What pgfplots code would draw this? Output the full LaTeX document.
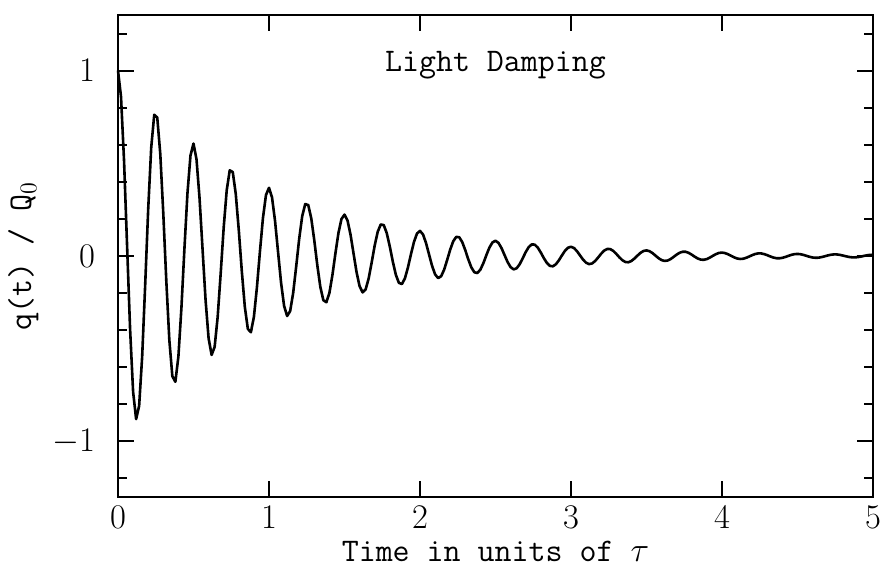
\documentclass[border=0pt]{standalone}
\usepackage{pgfplots}
\pgfplotsset{compat=1.18}
\begin{document}
\begin{tikzpicture}
\begin{axis}[
  scale only axis,
  width=377.5pt, height=241pt,
  xmin=0, xmax=5, ymin=-1.3, ymax=1.3,
  xtick={0,1,2,3,4,5},
  ytick={-1,0,1},
  minor ytick={-1.2,-0.8,-0.6,-0.4,-0.2,0.2,0.4,0.6,0.8,1.2},
  tick align=inside,
  major tick length=8pt,
  minor tick length=4.5pt,
  axis line style={line width=1.1pt},
  every tick/.style={black, line width=1pt},
  tick label style={font=\fontsize{17.5}{19}\selectfont},
  xticklabel style={yshift=-1pt},
  yticklabel style={xshift=-8pt},
  xlabel={\fontsize{16.5}{19}\selectfont\ttfamily Time in units of $\tau$},
  ylabel={\fontsize{16.5}{19}\selectfont\ttfamily q(t) / Q$_0$},
  xlabel style={yshift=0.5pt},
  clip=false,
]
\addplot[black, line width=1.3pt, line join=round] table {
t q
0.00 1.0000
0.02 0.8590
0.04 0.5148
0.06 0.0591
0.08 -0.3930
0.10 -0.7320
0.12 -0.8799
0.14 -0.8083
0.16 -0.5432
0.18 -0.1565
0.20 0.2530
0.22 0.5850
0.24 0.7619
0.26 0.7468
0.28 0.5509
0.30 0.2289
0.32 -0.1361
0.34 -0.4537
0.36 -0.6487
0.38 -0.6785
0.40 -0.5423
0.42 -0.2798
0.44 0.0404
0.46 0.3383
0.48 0.5422
0.50 0.6065
0.52 0.5210
0.54 0.3123
0.56 0.0359
0.58 -0.2384
0.60 -0.4440
0.62 -0.5337
0.64 -0.4903
0.66 -0.3295
0.68 -0.0949
0.70 0.1535
0.72 0.3548
0.74 0.4621
0.76 0.4530
0.78 0.3342
0.80 0.1389
0.82 -0.0825
0.84 -0.2752
0.86 -0.3934
0.88 -0.4115
0.90 -0.3289
0.92 -0.1697
0.94 0.0245
0.96 0.2052
0.98 0.3289
1.00 0.3679
1.02 0.3160
1.04 0.1894
1.06 0.0218
1.08 -0.1446
1.10 -0.2693
1.12 -0.3237
1.14 -0.2974
1.16 -0.1998
1.18 -0.0576
1.20 0.0931
1.22 0.2152
1.24 0.2803
1.26 0.2747
1.28 0.2027
1.30 0.0842
1.32 -0.0501
1.34 -0.1669
1.36 -0.2386
1.38 -0.2496
1.40 -0.1995
1.42 -0.1029
1.44 0.0149
1.46 0.1244
1.48 0.1995
1.50 0.2231
1.52 0.1917
1.54 0.1149
1.56 0.0132
1.58 -0.0877
1.60 -0.1633
1.62 -0.1963
1.64 -0.1804
1.66 -0.1212
1.68 -0.0349
1.70 0.0565
1.72 0.1305
1.74 0.1700
1.76 0.1666
1.78 0.1229
1.80 0.0511
1.82 -0.0304
1.84 -0.1012
1.86 -0.1447
1.88 -0.1514
1.90 -0.1210
1.92 -0.0624
1.94 0.0090
1.96 0.0755
1.98 0.1210
2.00 0.1353
2.02 0.1162
2.04 0.0697
2.06 0.0080
2.08 -0.0532
2.10 -0.0991
2.12 -0.1191
2.14 -0.1094
2.16 -0.0735
2.18 -0.0212
2.20 0.0342
2.22 0.0792
2.24 0.1031
2.26 0.1011
2.28 0.0746
2.30 0.0310
2.32 -0.0184
2.34 -0.0614
2.36 -0.0878
2.38 -0.0918
2.40 -0.0734
2.42 -0.0379
2.44 0.0055
2.46 0.0458
2.48 0.0734
2.50 0.0821
2.52 0.0705
2.54 0.0423
2.56 0.0049
2.58 -0.0323
2.60 -0.0601
2.62 -0.0722
2.64 -0.0664
2.66 -0.0446
2.68 -0.0128
2.70 0.0208
2.72 0.0480
2.74 0.0625
2.76 0.0613
2.78 0.0452
2.80 0.0188
2.82 -0.0112
2.84 -0.0372
2.86 -0.0532
2.88 -0.0557
2.90 -0.0445
2.92 -0.0230
2.94 0.0033
2.96 0.0278
2.98 0.0445
3.00 0.0498
3.02 0.0428
3.04 0.0256
3.06 0.0029
3.08 -0.0196
3.10 -0.0364
3.12 -0.0438
3.14 -0.0402
3.16 -0.0270
3.18 -0.0078
3.20 0.0126
3.22 0.0291
3.24 0.0379
3.26 0.0372
3.28 0.0274
3.30 0.0114
3.32 -0.0068
3.34 -0.0226
3.36 -0.0323
3.38 -0.0338
3.40 -0.0270
3.42 -0.0139
3.44 0.0020
3.46 0.0168
3.48 0.0270
3.50 0.0302
3.52 0.0259
3.54 0.0155
3.56 0.0018
3.58 -0.0119
3.60 -0.0221
3.62 -0.0266
3.64 -0.0244
3.66 -0.0164
3.68 -0.0047
3.70 0.0076
3.72 0.0177
3.74 0.0230
3.76 0.0226
3.78 0.0166
3.80 0.0069
3.82 -0.0041
3.84 -0.0137
3.86 -0.0196
3.88 -0.0205
3.90 -0.0164
3.92 -0.0084
3.94 0.0012
3.96 0.0102
3.98 0.0164
4.00 0.0183
4.02 0.0157
4.04 0.0094
4.06 0.0011
4.08 -0.0072
4.10 -0.0134
4.12 -0.0161
4.14 -0.0148
4.16 -0.0099
4.18 -0.0029
4.20 0.0046
4.22 0.0107
4.24 0.0140
4.26 0.0137
4.28 0.0101
4.30 0.0042
4.32 -0.0025
4.34 -0.0083
4.36 -0.0119
4.38 -0.0124
4.40 -0.0099
4.42 -0.0051
4.44 0.0007
4.46 0.0062
4.48 0.0099
4.50 0.0111
4.52 0.0095
4.54 0.0057
4.56 0.0007
4.58 -0.0044
4.60 -0.0081
4.62 -0.0098
4.64 -0.0090
4.66 -0.0060
4.68 -0.0017
4.70 0.0028
4.72 0.0065
4.74 0.0085
4.76 0.0083
4.78 0.0061
4.80 0.0025
4.82 -0.0015
4.84 -0.0050
4.86 -0.0072
4.88 -0.0075
4.90 -0.0060
4.92 -0.0031
4.94 0.0004
4.96 0.0038
4.98 0.0060
5.00 0.0067
};
\node[font=\fontsize{16.5}{19}\selectfont\ttfamily] at (axis cs:2.5,1.03) {Light Damping};
\coordinate (bl) at (rel axis cs:-0.15629,-0.15353);
\coordinate (tr) at (rel axis cs:1.01457,1.03112);
\end{axis}
\pgfresetboundingbox
\path[use as bounding box] (bl) rectangle (tr);
\end{tikzpicture}
\end{document}
